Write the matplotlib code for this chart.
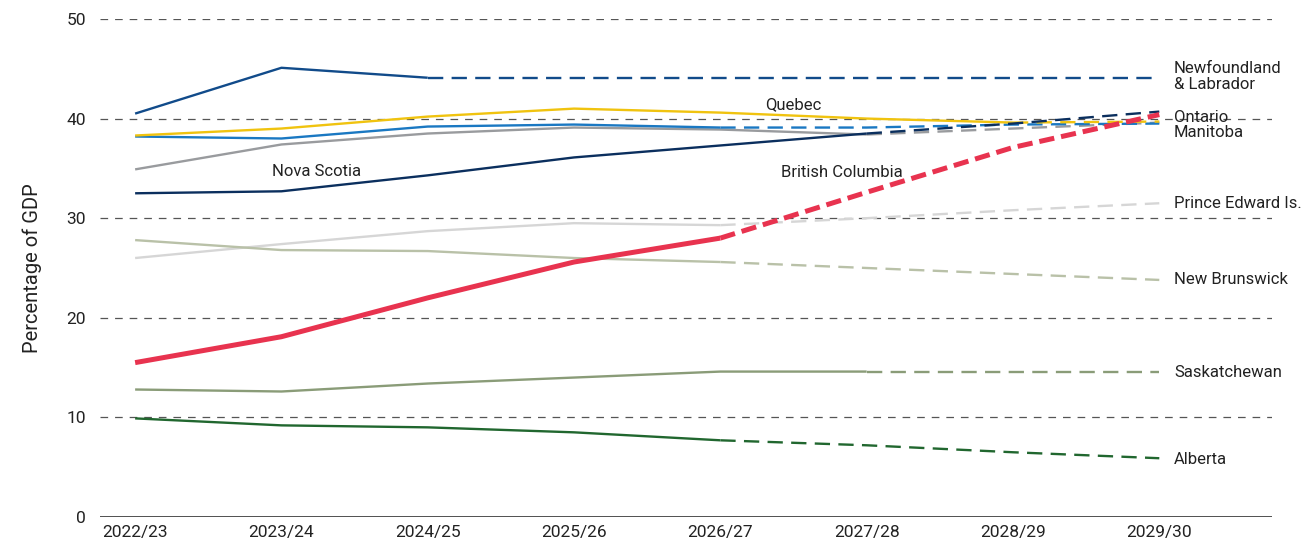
import matplotlib
matplotlib.use("Agg")
import matplotlib.pyplot as plt

plt.rcParams["font.family"] = ["Roboto", "DejaVu Sans"]
plt.rcParams["lines.scale_dashes"] = False

years = ["2022/23", "2023/24", "2024/25", "2025/26", "2026/27",
         "2027/28", "2028/29", "2029/30"]

newfoundland = [40.5, 45.1, 44.1, 44.1, 44.1, 44.1, 44.1, 44.1]
quebec = [38.3, 39.0, 40.2, 41.0, 40.6, 40.0, 39.6, 39.7]
ontario = [38.2, 38.0, 39.2, 39.4, 39.1, 39.1, 39.4, 39.5]
manitoba = [34.9, 37.4, 38.5, 39.1, 38.9, 38.4, 39.0, 39.6]
nova_scotia = [32.5, 32.7, 34.3, 36.1, 37.3, 38.5, 39.5, 40.7]
british_columbia = [15.5, 18.1, 22.0, 25.6, 28.0, 32.6, 37.1, 40.4]
pei = [26.0, 27.4, 28.7, 29.5, 29.3, 30.0, 30.8, 31.5]
new_brunswick = [27.8, 26.8, 26.7, 26.0, 25.6, 25.0, 24.4, 23.8]
saskatchewan = [12.8, 12.6, 13.4, 14.0, 14.6, 14.6, 14.6, 14.6]
alberta = [9.9, 9.2, 9.0, 8.5, 7.7, 7.2, 6.5, 5.9]

# (values, index where the dashed projection begins, colour, width)
series = [
    (pei, 4, "#d6d6d6", 1.7),
    (new_brunswick, 4, "#b9c1a8", 1.7),
    (saskatchewan, 5, "#8a9c78", 1.7),
    (alberta, 4, "#21672f", 1.7),
    (manitoba, 5, "#999b9e", 1.7),
    (ontario, 4, "#1a78c2", 1.7),
    (quebec, 6, "#f0c30f", 1.7),
    (nova_scotia, 5, "#0b2f5e", 1.7),
    (newfoundland, 2, "#114b8a", 1.7),
    (british_columbia, 4, "#e8334f", 3.6),
]

fig = plt.figure(figsize=(13.09, 5.5), dpi=100)
ax = fig.add_axes([0.0764, 0.06, 0.8953, 0.9055])

x = list(range(len(years)))
for vals, k, col, lw in series:
    ax.plot(x[:k + 1], vals[:k + 1], color=col, lw=lw,
            solid_capstyle="butt", zorder=3)
    if lw > 2:
        dash = (11, 5)
    else:
        dash = (11, 6)
    ax.plot(x[k:], vals[k:], color=col, lw=lw, dashes=dash,
            dash_capstyle="butt", zorder=3)

for yv in [10, 20, 30, 40, 50]:
    ax.axhline(yv, color="#555555", lw=0.9, dashes=(5.5, 5), zorder=1)
ax.axhline(0, color="#333333", lw=1.2, zorder=2)

ax.set_xlim(-0.24, 7.77)
ax.set_ylim(0, 50)
ax.set_yticks([0, 10, 20, 30, 40, 50])
ax.set_xticks(x)
ax.set_xticklabels(years)
ax.tick_params(length=0, labelsize=12.5, colors="#222222", pad=6)
ax.tick_params(axis="y", pad=10)
for s in ax.spines.values():
    s.set_visible(False)
ax.set_ylabel("Percentage of GDP", fontsize=14.5, color="#222222", labelpad=18)

lab = dict(fontsize=12, color="#222222", va="center")
ax.text(7.1, 44.2, "Newfoundland\n& Labrador", linespacing=1.05, **lab)
ax.text(7.1, 40.1, "Ontario", **lab)
ax.text(7.1, 38.6, "Manitoba", **lab)
ax.text(7.1, 31.5, "Prince Edward Is.", **lab)
ax.text(7.1, 23.8, "New Brunswick", **lab)
ax.text(7.1, 14.5, "Saskatchewan", **lab)
ax.text(7.1, 5.8, "Alberta", **lab)
ax.text(4.5, 41.4, "Quebec", ha="center", **lab)
ax.text(4.83, 34.6, "British Columbia", ha="center", **lab)
ax.text(1.24, 34.7, "Nova Scotia", ha="center", **lab)

fig.savefig("out.png", dpi=100)
